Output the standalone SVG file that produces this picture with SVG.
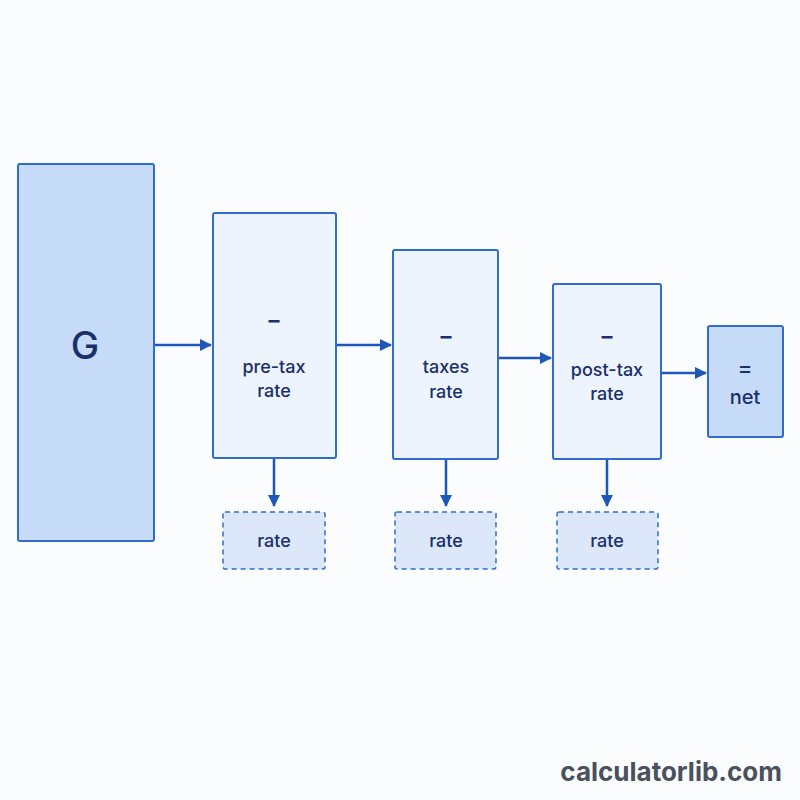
<svg xmlns="http://www.w3.org/2000/svg" width="800" height="800" viewBox="0 0 800 800">
<defs>
<marker id="ah" markerWidth="12" markerHeight="12" refX="11" refY="6" orient="auto" markerUnits="userSpaceOnUse">
<path d="M0,0 L12,6 L0,12 z" fill="#1f57b8"/>
</marker>
<style>
.main{fill:#c6dbf8;stroke:#2f6ccc;stroke-width:2}
.step{fill:#eef4fd;stroke:#2f6ccc;stroke-width:2}
.dash{fill:#dce8fa;stroke:#2f6ccc;stroke-width:1.5;stroke-dasharray:5 4}
.t{font-family:Inter,"Liberation Sans",Arial,sans-serif;fill:#1a2f6b;text-anchor:middle;font-weight:500}
.lbl{font-size:18px}
.mn{font-size:22px;font-weight:700}
.conn line{stroke:#1f57b8;stroke-width:2.5;fill:none}
</style>
</defs>
<rect width="800" height="800" fill="#fbfcfe"/>
<g id="connectors" class="conn">
<line x1="155" y1="345" x2="211" y2="345" marker-end="url(#ah)"/>
<line x1="337" y1="345" x2="391" y2="345" marker-end="url(#ah)"/>
<line x1="499" y1="358" x2="551" y2="358" marker-end="url(#ah)"/>
<line x1="662" y1="373" x2="706" y2="373" marker-end="url(#ah)"/>
<line x1="274" y1="459" x2="274" y2="506" marker-end="url(#ah)"/>
<line x1="446" y1="459" x2="446" y2="506" marker-end="url(#ah)"/>
<line x1="607" y1="459" x2="607" y2="506" marker-end="url(#ah)"/>
</g>
<g id="node-G">
<rect class="main" x="18" y="164" width="136" height="377" rx="2"/>
<text class="t" x="85" y="359" font-size="38">G</text>
</g>
<g id="node-pretax">
<rect class="step" x="213" y="213" width="123" height="245" rx="2"/>
<text class="t mn" x="274" y="328">–</text>
<text class="t lbl" x="274" y="373">pre-tax</text>
<text class="t lbl" x="274" y="397">rate</text>
</g>
<g id="node-taxes">
<rect class="step" x="393" y="250" width="105" height="209" rx="2"/>
<text class="t mn" x="446" y="344">–</text>
<text class="t lbl" x="446" y="373">taxes</text>
<text class="t lbl" x="446" y="398">rate</text>
</g>
<g id="node-posttax">
<rect class="step" x="553" y="284" width="108" height="175" rx="2"/>
<text class="t mn" x="607" y="344">–</text>
<text class="t lbl" x="607" y="376">post-tax</text>
<text class="t lbl" x="607" y="400">rate</text>
</g>
<g id="node-net">
<rect class="main" x="708" y="326" width="75" height="111" rx="2"/>
<text class="t" x="745" y="376" font-size="22">=</text>
<text class="t" x="745" y="404" font-size="20">net</text>
</g>
<g id="node-rate1">
<rect class="dash" x="223" y="512" width="102" height="57" rx="2"/>
<text class="t lbl" x="274" y="547">rate</text>
</g>
<g id="node-rate2">
<rect class="dash" x="395" y="512" width="101" height="57" rx="2"/>
<text class="t lbl" x="446" y="547">rate</text>
</g>
<g id="node-rate3">
<rect class="dash" x="557" y="512" width="101" height="57" rx="2"/>
<text class="t lbl" x="607" y="547">rate</text>
</g>
<text x="782" y="781" font-family="Inter,'Liberation Sans',Arial,sans-serif" font-size="26" font-weight="bold" fill="#4a505c" text-anchor="end">calculatorlib.com</text>
</svg>
